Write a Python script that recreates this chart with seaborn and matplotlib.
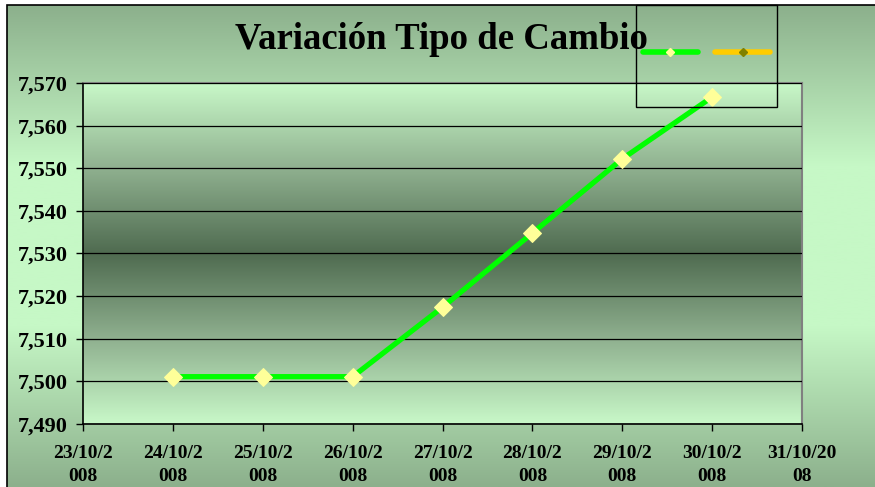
import numpy as np
import pandas as pd
import matplotlib
matplotlib.use("Agg")
import matplotlib.pyplot as plt
from matplotlib.colors import LinearSegmentedColormap
from matplotlib.lines import Line2D
from matplotlib.patches import Rectangle
from matplotlib.ticker import FuncFormatter, MultipleLocator
import seaborn as sns

# exchange rate values
fechas = ["2008-10-24", "2008-10-25", "2008-10-26", "2008-10-27",
	"2008-10-28", "2008-10-29", "2008-10-30"]
tipo_cambio = [7.5011, 7.5011, 7.5011, 7.5174, 7.5348, 7.5522, 7.5667]

# axis labels (wrapped the same way as the original)
etiquetas_x = ["23/10/2\n008", "24/10/2\n008", "25/10/2\n008", "26/10/2\n008",
	"27/10/2\n008", "28/10/2\n008", "29/10/2\n008", "30/10/2\n008", "31/10/20\n08"]
titulo = "Variación Tipo de Cambio"

df = pd.DataFrame({"fecha": pd.to_datetime(fechas), "valor": tipo_cambio})

sns.set_style("white")
plt.rcParams["font.family"] = ["Liberation Serif", "DejaVu Serif"]
plt.rcParams["text.color"] = "black"
plt.rcParams["xtick.color"] = "black"
plt.rcParams["ytick.color"] = "black"

fig = plt.figure(figsize = (8.75, 4.87), dpi = 100, facecolor = "white")

# figure background gradient (dark - light - dark)
fondo = fig.add_axes([0.008, 0.0, 0.992, 0.9897], zorder = -10)
cmap_fondo = LinearSegmentedColormap.from_list("fondo",
	["#8cb08c", "#c6f8c6", "#c6f8c6", "#8cb08c"])
grad = np.linspace(0, 1, 256).reshape(-1, 1)
fondo.imshow(grad, cmap = cmap_fondo, aspect = "auto", extent = [0, 1, 0, 1])
fondo.set_axis_off()

# frame visible at top and left
fig.patches.append(Rectangle((0.008, -0.05), 1.1, 0.9897 + 0.05, fill = False,
	edgecolor = "black", linewidth = 1.2, transform = fig.transFigure))

ax = fig.add_axes([0.0949, 0.1294, 0.8217, 0.7002])
ax.patch.set_alpha(0)

# plot area gradient (light - dark - light)
cmap_area = LinearSegmentedColormap.from_list("area",
	["#c8f8c8", "#8fb08f", "#4f6b50", "#8fb08f", "#c8f8c8"])
ax.imshow(grad, cmap = cmap_area, aspect = "auto", extent = [0, 1, 0, 1],
	transform = ax.transAxes, zorder = 0)

sns.lineplot(data = df, x = "fecha", y = "valor", ax = ax, color = "#00ff00",
	linewidth = 3.8, marker = "D", markersize = 9.5, markerfacecolor = "#ffff99",
	markeredgecolor = "#ffff99", zorder = 5)

ax.set_xlim(pd.Timestamp("2008-10-23"), pd.Timestamp("2008-10-31"))
ax.set_ylim(7.490, 7.570)
ax.yaxis.set_major_locator(MultipleLocator(0.010))
ax.yaxis.set_major_formatter(FuncFormatter(lambda v, p: f"{v:.3f}".replace(".", ",")))
ax.set_xticks(pd.date_range("2008-10-23", "2008-10-31"))
ax.set_xticklabels(etiquetas_x)

ax.grid(axis = "y", color = "black", linewidth = 0.9, zorder = 1)
ax.set_axisbelow(False)
ax.set_xlabel("")
ax.set_ylabel("")

for lado in ["left", "bottom"]:
	ax.spines[lado].set_color("black")
	ax.spines[lado].set_linewidth(1.2)
for lado in ["top", "right"]:
	ax.spines[lado].set_color("#808080")
	ax.spines[lado].set_linewidth(1.5)

ax.tick_params(axis = "both", direction = "out", length = 5, width = 1,
	color = "black", left = True, bottom = True)
ax.tick_params(axis = "y", labelsize = 16, pad = 6)
ax.tick_params(axis = "x", labelsize = 14, pad = 10)
for lbl in ax.get_xticklabels() + ax.get_yticklabels():
	lbl.set_fontweight("bold")
	lbl.set_color("black")
for lbl in ax.get_xticklabels():
	lbl.set_linespacing(1.5)

fig.text(0.504, 0.918, titulo, ha = "center", va = "center", fontsize = 26.5,
	fontweight = "bold", color = "black")

# legend box without text
fig.patches.append(Rectangle((0.727, 0.780), 0.161, 0.2097, fill = False,
	edgecolor = "black", linewidth = 1, transform = fig.transFigure, zorder = 10))
handles = [
	Line2D([], [], color = "#00ff00", linewidth = 4, solid_capstyle = "round",
		marker = "D", markersize = 4, markerfacecolor = "#ffff99",
		markeredgecolor = "#ffff99"),
	Line2D([], [], color = "#ffcc00", linewidth = 4, solid_capstyle = "round",
		marker = "D", markersize = 4, markerfacecolor = "#808000",
		markeredgecolor = "#808000"),
]
fig.legend(handles, ["", ""], ncol = 2, loc = "center",
	bbox_to_anchor = (0.8075, 0.891), frameon = False, handlelength = 4,
	handletextpad = 0, columnspacing = 1.2, fontsize = 10)

fig.savefig("out.png", dpi = 100, facecolor = fig.get_facecolor())
